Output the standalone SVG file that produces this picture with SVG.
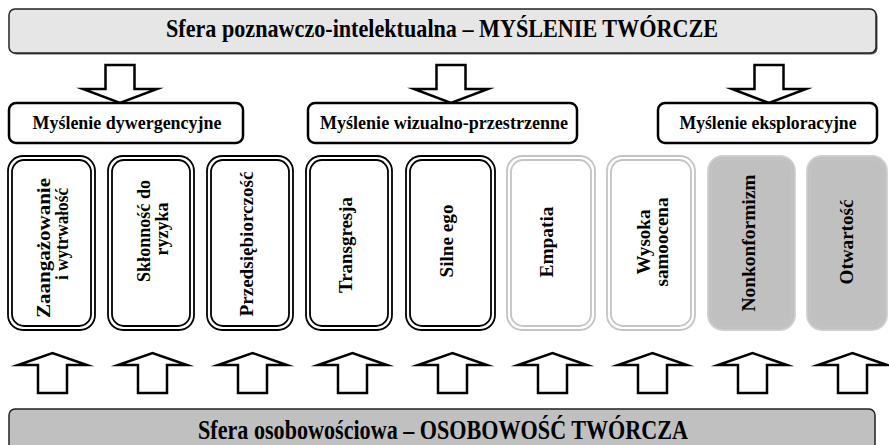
<svg xmlns="http://www.w3.org/2000/svg" width="889" height="445" viewBox="0 0 889 445">
<defs>
<style>
.bar{stroke:#222;stroke-width:1.5}
.bartxt{font-family:"Liberation Serif","Times New Roman",serif;font-weight:bold;fill:#000;text-anchor:middle}
.grp{fill:#fff;stroke:#000;stroke-width:2.5}
.grptxt{font-family:"Liberation Serif","Times New Roman",serif;font-weight:bold;font-size:18px;fill:#000;text-anchor:middle}
.arr{fill:#fff;stroke:#000;stroke-width:2.5;stroke-linejoin:miter;stroke-miterlimit:8}
.bo{fill:#fff;stroke:#000;stroke-width:1.8}
.bi{fill:none;stroke:#000;stroke-width:1.8}
.lo{fill:#fff;stroke:#c4c4c4;stroke-width:1.8}
.li{fill:none;stroke:#c4c4c4;stroke-width:1.8}
.go{fill:#c0c0c0;stroke:#cfcfcf;stroke-width:1.8}
.gi{fill:none;stroke:#c6c6c6;stroke-width:1}
.t{font-family:"Liberation Serif","Times New Roman",serif;font-weight:bold;font-size:18px;fill:#000;text-anchor:middle}
</style>
</defs>

<g id="top-bar">
<rect x="10.5" y="10.5" width="867" height="44" rx="6" fill="#555"/>
<rect class="bar" x="9" y="9" width="867" height="44" rx="6" fill="#e6e6e6"/>
<text class="bartxt" x="442" y="37" font-size="26" textLength="552" lengthAdjust="spacingAndGlyphs">Sfera poznawczo-intelektualna – MYŚLENIE TWÓRCZE</text>
</g>

<g id="connectors">
<polygon class="arr" points="105.5,65 134.5,65 134.5,89 157,89 120,103 83,89 105.5,89"/>
<polygon class="arr" points="436.5,65 465.5,65 465.5,89 488,89 451,103 414,89 436.5,89"/>
<polygon class="arr" points="754.5,65 783.5,65 783.5,89 806,89 769,103 732,89 754.5,89"/>
<polygon class="arr" points="38,393 67,393 67,365 87,365 52.5,353 18,365 38,365"/>
<polygon class="arr" points="138,393 167,393 167,365 187,365 152.5,353 118,365 138,365"/>
<polygon class="arr" points="238,393 267,393 267,365 287,365 252.5,353 218,365 238,365"/>
<polygon class="arr" points="338,393 367,393 367,365 387,365 352.5,353 318,365 338,365"/>
<polygon class="arr" points="438,393 467,393 467,365 487,365 452.5,353 418,365 438,365"/>
<polygon class="arr" points="538,393 567,393 567,365 587,365 552.5,353 518,365 538,365"/>
<polygon class="arr" points="638,393 667,393 667,365 687,365 652.5,353 618,365 638,365"/>
<polygon class="arr" points="738,393 767,393 767,365 787,365 752.5,353 718,365 738,365"/>
<polygon class="arr" points="838,393 867,393 867,365 887,365 852.5,353 818,365 838,365"/>
</g>

<g id="grp-dywergencyjne">
<rect class="grp" x="9" y="103" width="234" height="40" rx="7"/>
<text class="grptxt" x="127" y="129" textLength="189" lengthAdjust="spacingAndGlyphs">Myślenie dywergencyjne</text>
</g>
<g id="grp-wizualno">
<rect class="grp" x="308" y="103" width="269" height="40" rx="7"/>
<text class="grptxt" x="444" y="129" textLength="248" lengthAdjust="spacingAndGlyphs">Myślenie wizualno-przestrzenne</text>
</g>
<g id="grp-eksploracyjne">
<rect class="grp" x="658" y="103" width="219" height="40" rx="7"/>
<text class="grptxt" x="768" y="129" textLength="177" lengthAdjust="spacingAndGlyphs">Myślenie eksploracyjne</text>
</g>

<g id="box-zaangazowanie">
<rect class="bo" x="8" y="156" width="87" height="174" rx="15"/>
<rect class="bi" x="12" y="160" width="79" height="166" rx="12"/>
<text class="t" transform="translate(50,248) rotate(-90)" textLength="140" lengthAdjust="spacingAndGlyphs">Zaangażowanie</text>
<text class="t" transform="translate(68,234) rotate(-90)" textLength="92" lengthAdjust="spacingAndGlyphs">i wytrwałość</text>
</g>
<g id="box-sklonnosc">
<rect class="bo" x="108" y="156" width="86" height="174" rx="15"/>
<rect class="bi" x="112" y="160" width="78" height="166" rx="12"/>
<text class="t" transform="translate(150,231) rotate(-90)" textLength="102" lengthAdjust="spacingAndGlyphs">Skłonność do</text>
<text class="t" transform="translate(168,229) rotate(-90)">ryzyka</text>
</g>
<g id="box-przedsiebiorczosc">
<rect class="bo" x="207" y="156" width="86" height="174" rx="15"/>
<rect class="bi" x="211" y="160" width="78" height="166" rx="12"/>
<text class="t" transform="translate(253,244) rotate(-90)" textLength="145" lengthAdjust="spacingAndGlyphs">Przedsiębiorczość</text>
</g>
<g id="box-transgresja">
<rect class="bo" x="306" y="156" width="86" height="174" rx="15"/>
<rect class="bi" x="310" y="160" width="78" height="166" rx="12"/>
<text class="t" transform="translate(352,245) rotate(-90)" textLength="96" lengthAdjust="spacingAndGlyphs">Transgresja</text>
</g>
<g id="box-silne-ego">
<rect class="bo" x="406" y="156" width="89" height="174" rx="15"/>
<rect class="bi" x="410" y="160" width="81" height="166" rx="12"/>
<text class="t" transform="translate(453,241) rotate(-90)" textLength="73" lengthAdjust="spacingAndGlyphs">Silne ego</text>
</g>
<g id="box-empatia">
<rect class="lo" x="507" y="156" width="88" height="174" rx="15"/>
<rect class="li" x="511" y="160" width="80" height="166" rx="12"/>
<text class="t" transform="translate(553,242) rotate(-90)" textLength="71" lengthAdjust="spacingAndGlyphs">Empatia</text>
</g>
<g id="box-wysoka-samoocena">
<rect class="lo" x="607" y="156" width="88" height="174" rx="15"/>
<rect class="li" x="611" y="160" width="80" height="166" rx="12"/>
<text class="t" transform="translate(650,242) rotate(-90)" textLength="65" lengthAdjust="spacingAndGlyphs">Wysoka</text>
<text class="t" transform="translate(668,242) rotate(-90)" textLength="89" lengthAdjust="spacingAndGlyphs">samoocena</text>
</g>
<g id="box-nonkonformizm">
<rect class="go" x="708" y="156" width="87" height="174" rx="15"/>
<rect class="gi" x="711" y="159" width="81" height="168" rx="13"/>
<text class="t" transform="translate(755,243) rotate(-90)" textLength="137" lengthAdjust="spacingAndGlyphs">Nonkonformizm</text>
</g>
<g id="box-otwartosc">
<rect class="go" x="807" y="156" width="80" height="174" rx="15"/>
<rect class="gi" x="810" y="159" width="74" height="168" rx="13"/>
<text class="t" transform="translate(853,242) rotate(-90)" textLength="85" lengthAdjust="spacingAndGlyphs">Otwartość</text>
</g>

<g id="bottom-bar">
<rect class="bar" x="9" y="409" width="866" height="50" rx="6" fill="#c0c0c0"/>
<text class="bartxt" x="443" y="439" font-size="28" textLength="490" lengthAdjust="spacingAndGlyphs">Sfera osobowościowa – OSOBOWOŚĆ TWÓRCZA</text>
</g>
</svg>
